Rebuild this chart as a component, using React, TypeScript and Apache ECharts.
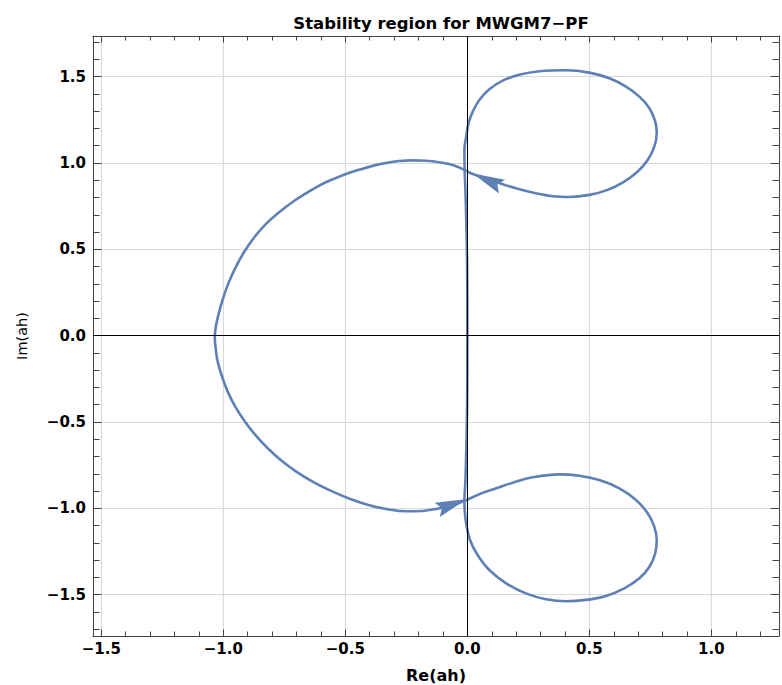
import React, { useEffect, useRef } from 'react';
import * as echarts from 'echarts';

const titleText = 'Stability region for MWGM7\u2212PF';
const xName = 'Re(ah)';
const yName = 'Im(ah)';

const xRange = [-1.534, 1.277];
const yRange = [-1.739, 1.735];

const xMajorTicks = [-1.5, -1.0, -0.5, 0.0, 0.5, 1.0];
const xMinorTicks = [-1.5, -1.4, -1.3, -1.2, -1.1, -1.0, -0.9, -0.8, -0.7, -0.6, -0.5, -0.4, -0.3, -0.2, -0.1, 0.0, 0.1, 0.2, 0.3, 0.4, 0.5, 0.6, 0.7, 0.8, 0.9, 1.0, 1.1, 1.2];
const yMajorTicks = [-1.5, -1.0, -0.5, 0.0, 0.5, 1.0, 1.5];
const yMinorTicks = [-1.7, -1.6, -1.5, -1.4, -1.3, -1.2, -1.1, -1.0, -0.9, -0.8, -0.7, -0.6, -0.5, -0.4, -0.3, -0.2, -0.1, 0.0, 0.1, 0.2, 0.3, 0.4, 0.5, 0.6, 0.7, 0.8, 0.9, 1.0, 1.1, 1.2, 1.3, 1.4, 1.5, 1.6, 1.7];

// boundary locus, in drawing order
const curveRe = [
  // up the imaginary axis
  0.000, -0.001, -0.005, -0.008, -0.011, -0.012,
  // upper loop
  -0.005, 0.005, 0.022, 0.049, 0.090, 0.145, 0.213, 0.295, 0.404, 0.500,
  0.582, 0.650, 0.705, 0.746, 0.770, 0.776, 0.766, 0.739, 0.698, 0.643,
  0.575, 0.500, 0.418, 0.350, 0.281, 0.213, 0.145, 0.077, 0.022, -0.008,
  // big left loop
  -0.060, -0.115, -0.169, -0.224, -0.279, -0.333, -0.388, -0.443, -0.497, -0.552,
  -0.607, -0.661, -0.716, -0.770, -0.825, -0.873, -0.914, -0.948, -0.978, -1.003,
  -1.022, -1.032, -1.035, -1.032, -1.023, -1.005, -0.982, -0.951, -0.914, -0.869,
  -0.818, -0.760, -0.695, -0.627, -0.552, -0.477, -0.402, -0.327, -0.251, -0.183,
  -0.122, -0.067, -0.019,
  // lower loop
  0.049, 0.118, 0.186, 0.268, 0.377, 0.459, 0.541, 0.623, 0.691, 0.739,
  0.766, 0.776, 0.770, 0.746, 0.705, 0.643, 0.568, 0.486, 0.404, 0.322,
  0.240, 0.159, 0.090, 0.042, 0.011, -0.005, -0.011, -0.012,
  // back up to the origin
  -0.008, -0.005, -0.001, 0.000
];
const curveIm = [
  0.000, 0.400, 0.690, 0.840, 0.950, 1.075,
  1.152, 1.230, 1.297, 1.365, 1.427, 1.477, 1.511, 1.531, 1.537, 1.523,
  1.490, 1.442, 1.384, 1.317, 1.239, 1.172, 1.094, 1.017, 0.950, 0.892,
  0.844, 0.815, 0.803, 0.807, 0.825, 0.848, 0.877, 0.911, 0.936, 0.957,
  0.988, 1.004, 1.013, 1.015, 1.011, 1.000, 0.983, 0.961, 0.936, 0.905,
  0.869, 0.824, 0.774, 0.716, 0.647, 0.570, 0.486, 0.400, 0.307, 0.207,
  0.110, 0.040, -0.010, -0.064, -0.151, -0.237, -0.324, -0.411, -0.492, -0.575,
  -0.652, -0.726, -0.793, -0.851, -0.903, -0.947, -0.982, -1.005, -1.017, -1.015,
  -1.002, -0.984, -0.961,
  -0.918, -0.884, -0.851, -0.820, -0.803, -0.811, -0.836, -0.884, -0.951, -1.028,
  -1.106, -1.183, -1.260, -1.338, -1.405, -1.463, -1.507, -1.530, -1.538, -1.526,
  -1.492, -1.434, -1.357, -1.270, -1.183, -1.086, -1.009, -0.951,
  -0.840, -0.690, -0.400, 0.000
];

// arrowheads along the curve
const arrowRe = [0.082, -0.062];
const arrowIm = [0.901, -0.977];
const arrowAngle = [66, -70];

const FONT = 'DejaVu Sans';
const FRAME = '#444444';
const CURVE = '#5E81B5';

const fmt = (v: number) => (v < 0 ? '\u2212' : '') + Math.abs(v).toFixed(1);

function xAx(grid: number, pos: 'bottom' | 'top', major: boolean) {
  return {
    type: 'value',
    gridIndex: grid,
    position: pos,
    min: xRange[0],
    max: xRange[1],
    axisLine: { show: major, onZero: false, lineStyle: { color: FRAME, width: 1 } },
    axisTick: {
      show: true,
      inside: true,
      length: major ? 6.5 : 4.5,
      customValues: major ? xMajorTicks : xMinorTicks,
      lineStyle: { color: FRAME, width: 1 },
    },
    minorTick: { show: false },
    axisLabel: {
      show: major && pos === 'bottom',
      customValues: xMajorTicks,
      formatter: fmt,
      margin: 5,
      color: '#000',
      fontFamily: FONT,
      fontWeight: 'bold',
      fontSize: 15,
    },
    splitLine: { show: major && pos === 'bottom', lineStyle: { color: '#d9d9d9', width: 1.2 } },
    ...(major && pos === 'bottom'
      ? {
          name: xName,
          nameLocation: 'middle',
          nameGap: 31,
          nameTextStyle: { color: '#000', fontFamily: FONT, fontWeight: 'bold', fontSize: 16 },
        }
      : {}),
  };
}

function yAx(grid: number, pos: 'left' | 'right', major: boolean) {
  return {
    type: 'value',
    gridIndex: grid,
    position: pos,
    min: yRange[0],
    max: yRange[1],
    axisLine: { show: major, onZero: false, lineStyle: { color: FRAME, width: 1 } },
    axisTick: {
      show: true,
      inside: true,
      length: major ? 8.5 : 6.5,
      customValues: major ? yMajorTicks : yMinorTicks,
      lineStyle: { color: FRAME, width: 1 },
    },
    minorTick: { show: false },
    axisLabel: {
      show: major && pos === 'left',
      customValues: yMajorTicks,
      formatter: fmt,
      margin: 7,
      color: '#000',
      fontFamily: FONT,
      fontWeight: 'bold',
      fontSize: 15,
    },
    splitLine: { show: major && pos === 'left', lineStyle: { color: '#d9d9d9', width: 1.2 } },
    ...(major && pos === 'left'
      ? {
          name: yName,
          nameLocation: 'middle',
          nameGap: 64,
          nameRotate: 90,
          nameTextStyle: { color: '#000', fontFamily: FONT, fontWeight: 'normal', fontSize: 14.5 },
        }
      : {}),
  };
}

export default function App() {
  const ref = useRef<HTMLDivElement>(null);
  useEffect(() => {
    if (!ref.current) return;
    const chart = echarts.init(ref.current, null, { renderer: 'svg' });
    const gridBox = { left: 93, right: 3, top: 36, bottom: 49, containLabel: false, outerBoundsMode: 'none' };
    const curve = curveRe.map((x, i) => [x, curveIm[i]]);
    const arrows = arrowRe.map((x, i) => ({ value: [x, arrowIm[i]], symbolRotate: arrowAngle[i] }));
    chart.setOption({
      animation: false,
      backgroundColor: '#ffffff',
      title: {
        text: titleText,
        left: 436,
        textAlign: 'center',
        top: 10,
        textStyle: { color: '#000', fontFamily: FONT, fontWeight: 'bold', fontSize: 16.5 },
      },
      grid: [{ ...gridBox }, { ...gridBox }],
      xAxis: [xAx(0, 'bottom', true), xAx(0, 'top', true), xAx(1, 'bottom', false), xAx(1, 'top', false)],
      yAxis: [yAx(0, 'left', true), yAx(0, 'right', true), yAx(1, 'left', false), yAx(1, 'right', false)],
      series: [
        {
          type: 'line',
          xAxisIndex: 0,
          yAxisIndex: 0,
          data: curve,
          showSymbol: false,
          symbol: 'none',
          smooth: 0.4,
          lineStyle: { color: CURVE, width: 2.6 },
          z: 2,
          markLine: {
            silent: true,
            symbol: 'none',
            label: { show: false },
            lineStyle: { color: '#000', width: 1, type: 'solid' },
            data: [{ xAxis: 0 }, { yAxis: 0 }],
          },
        },
        {
          type: 'scatter',
          xAxisIndex: 0,
          yAxisIndex: 0,
          data: arrows,
          symbol: 'path://M8,0 L16,32 L8,27 L0,32 Z',
          symbolSize: [15, 32],
          itemStyle: { color: CURVE, opacity: 1 },
          z: 3,
        },
      ],
    });
    return () => chart.dispose();
  }, []);
  return <div ref={ref} style={{ position: 'fixed', left: 0, top: 0, width: 782, height: 685 }} />;
}
